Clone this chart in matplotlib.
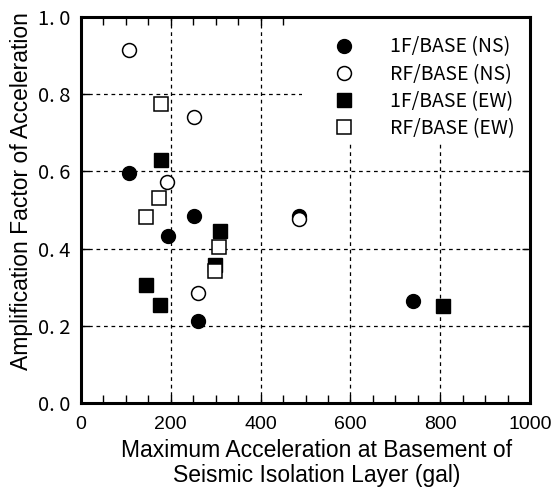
import matplotlib
matplotlib.use("Agg")
import matplotlib.pyplot as plt
from matplotlib.patches import Rectangle
from matplotlib.ticker import MultipleLocator

ns1_x = [108, 193, 252, 260, 486, 739]
ns1_y = [0.596, 0.432, 0.484, 0.213, 0.484, 0.265]
nsr_x = [107, 252, 192, 260, 486]
nsr_y = [0.916, 0.742, 0.572, 0.284, 0.478]
ew1_x = [178, 310, 298, 145, 175, 806]
ew1_y = [0.630, 0.446, 0.357, 0.307, 0.254, 0.251]
ewr_x = [178, 173, 144, 308, 298]
ewr_y = [0.776, 0.531, 0.481, 0.405, 0.343]

labels = ["1F/BASE (NS)", "RF/BASE (NS)", "1F/BASE (EW)", "RF/BASE (EW)"]
xticks = [0, 200, 400, 600, 800, 1000]
yticks = [0.0, 0.2, 0.4, 0.6, 0.8, 1.0]
ytick_labels = ["0. 0", "0. 2", "0. 4", "0. 6", "0. 8", "1. 0"]

jp = "Noto Sans CJK JP"
latin = "Liberation Sans"

fig = plt.figure(figsize=(5.51, 4.88), dpi=100)
ax = fig.add_axes([0.147, 0.174, 0.815, 0.791])

ax.set_xlim(0, 1000)
ax.set_ylim(0, 1.0)

ax.grid(True, which="major", color="black", lw=0.9, ls=(0, (3, 3)), zorder=1)
ax.set_axisbelow(True)

# white area behind legend hides the grid there
ax.add_patch(Rectangle((0.492, 0.674), 0.508, 0.326, transform=ax.transAxes,
                       facecolor="white", edgecolor="none", zorder=1.5))

ax.plot(ns1_x, ns1_y, "o", ms=10, color="black", label=labels[0], zorder=3)
ax.plot(nsr_x, nsr_y, "o", ms=10, mfc="white", mec="black", mew=1.1,
        label=labels[1], zorder=3)
ax.plot(ew1_x, ew1_y, "s", ms=10.5, color="black", label=labels[2], zorder=3)
ax.plot(ewr_x, ewr_y, "s", ms=10.5, mfc="white", mec="black", mew=1.1,
        label=labels[3], zorder=3)

leg = ax.legend(loc="upper left", bbox_to_anchor=(0.535, 0.97), frameon=False,
                handletextpad=1.65, labelspacing=0.32, borderaxespad=0,
                handlelength=1.5, prop={"family": jp, "size": 14})

ax.set_xticks(xticks)
ax.set_yticks(yticks)
ax.set_yticklabels(ytick_labels, family=jp, fontsize=14.5)
for t in ax.get_xticklabels():
    t.set_family(latin)
    t.set_fontsize(14)
ax.xaxis.set_minor_locator(MultipleLocator(50))

ax.tick_params(which="both", direction="in", top=True, right=True,
               length=6, width=1, color="black")
ax.tick_params(axis="x", pad=9)
ax.tick_params(axis="y", pad=8)

for s in ax.spines.values():
    s.set_linewidth(2.2)

ax.set_xlabel("Maximum Acceleration at Basement of\nSeismic Isolation Layer (gal)",
              family=latin, fontsize=16.5, linespacing=1.1)
ax.xaxis.set_label_coords(0.525, -0.093, transform=ax.transAxes)
ax.xaxis.label.set_va("top")
ax.set_ylabel("Amplification Factor of Acceleration", family=latin,
              fontsize=16.5)
ax.yaxis.set_label_coords(-0.107, 0.55, transform=ax.transAxes)

fig.savefig("out.png", dpi=100)
